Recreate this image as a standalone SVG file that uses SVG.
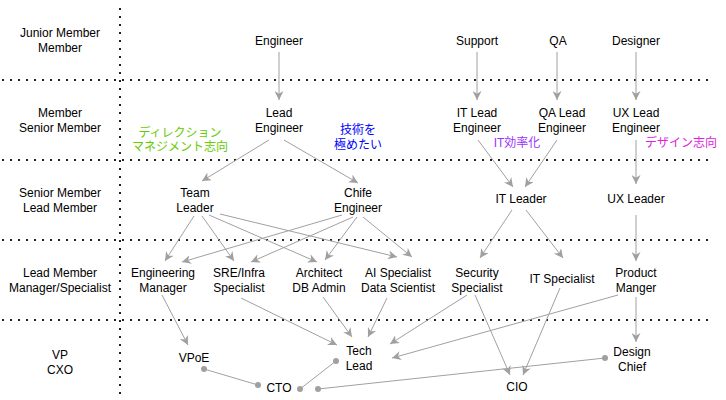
<svg xmlns="http://www.w3.org/2000/svg" width="726" height="400" viewBox="0 0 726 400">
<style>
text{font-family:"Liberation Sans","Noto Sans CJK JP",Arial,sans-serif;font-size:12px;fill:#000;text-anchor:middle}
.grid{stroke:#222;stroke-width:2;stroke-dasharray:2 6;fill:none}
.e{stroke:#a0a0a0;stroke-width:1;fill:none;marker-end:url(#ah)}
.l{stroke:#a0a0a0;stroke-width:1;fill:none}
.d{fill:#a0a0a0}
</style>
<defs>
<marker id="ah" viewBox="0 0 10 10" refX="10" refY="5" markerWidth="9" markerHeight="9" markerUnits="userSpaceOnUse" orient="auto">
<path d="M0,0 L10,5 L0,10 L3,5 z" fill="#a0a0a0"/>
</marker>
</defs>
<g id="grid">
<line class="grid" x1="120" y1="8" x2="120" y2="400"/>
<line class="grid" x1="2" y1="80" x2="712" y2="80"/>
<line class="grid" x1="2" y1="160" x2="712" y2="160"/>
<line class="grid" x1="2" y1="240" x2="712" y2="240"/>
<line class="grid" x1="2" y1="320" x2="712" y2="320"/>
</g>
<g id="rowlabels">
<text x="60" y="37">Junior Member</text><text x="60" y="52">Member</text>
<text x="60" y="117">Member</text><text x="60" y="132">Senior Member</text>
<text x="60" y="197">Senior Member</text><text x="60" y="212">Lead Member</text>
<text x="60" y="277">Lead Member</text><text x="60" y="292">Manager/Specialist</text>
<text x="60" y="359">VP</text><text x="60" y="374">CXO</text>
</g>
<g id="connectors">
<line class="e" x1="279" y1="52" x2="279" y2="100"/>
<line class="e" x1="477" y1="52" x2="477" y2="100"/>
<line class="e" x1="557" y1="52" x2="557" y2="100"/>
<line class="e" x1="636" y1="52" x2="636" y2="100"/>
<line class="e" x1="269" y1="140" x2="202" y2="181"/>
<line class="e" x1="284" y1="140" x2="358" y2="183"/>
<line class="e" x1="478" y1="140" x2="513" y2="187"/>
<line class="e" x1="557" y1="140" x2="525" y2="187"/>
<line class="e" x1="636" y1="140" x2="636" y2="184"/>
<line class="e" x1="194" y1="216" x2="165" y2="261"/>
<line class="e" x1="202" y1="216" x2="234" y2="261"/>
<line class="e" x1="209" y1="215" x2="317" y2="262"/>
<line class="e" x1="220" y1="214" x2="397" y2="257"/>
<line class="e" x1="342" y1="215" x2="182" y2="262"/>
<line class="e" x1="353" y1="217" x2="251" y2="262"/>
<line class="e" x1="357" y1="217" x2="325" y2="260"/>
<line class="e" x1="363" y1="217" x2="412" y2="257"/>
<line class="e" x1="512" y1="210" x2="480" y2="258"/>
<line class="e" x1="526" y1="210" x2="563" y2="258"/>
<line class="e" x1="636" y1="215" x2="636" y2="261"/>
<line class="e" x1="162" y1="295" x2="188" y2="345"/>
<line class="e" x1="241" y1="298" x2="337" y2="345"/>
<line class="e" x1="323" y1="297" x2="352" y2="337"/>
<line class="e" x1="387" y1="298" x2="368" y2="337"/>
<line class="e" x1="467" y1="295" x2="390" y2="344"/>
<line class="e" x1="618" y1="295" x2="392" y2="358"/>
<line class="e" x1="475" y1="295" x2="510" y2="375"/>
<line class="e" x1="560" y1="288" x2="523" y2="375"/>
<line class="e" x1="636" y1="297" x2="636" y2="342"/>
<line class="l" x1="204" y1="369" x2="258" y2="385"/>
<circle class="d" cx="204" cy="369" r="3"/><circle class="d" cx="258" cy="385" r="3"/>
<line class="l" x1="300" y1="389" x2="336" y2="361"/>
<circle class="d" cx="300" cy="389" r="3"/><circle class="d" cx="336" cy="361" r="3"/>
<line class="l" x1="318" y1="389" x2="605" y2="358"/>
<circle class="d" cx="318" cy="389" r="3"/><circle class="d" cx="605" cy="358" r="3"/>
</g>
<g id="engineer"><text x="279" y="45">Engineer</text></g>
<g id="support"><text x="477" y="45">Support</text></g>
<g id="qa"><text x="558" y="45">QA</text></g>
<g id="designer"><text x="636" y="45">Designer</text></g>
<g id="lead-engineer"><text x="279" y="117">Lead</text><text x="279" y="132">Engineer</text></g>
<g id="it-lead-engineer"><text x="477" y="117">IT Lead</text><text x="477" y="132">Engineer</text></g>
<g id="qa-lead-engineer"><text x="562" y="117">QA Lead</text><text x="562" y="132">Engineer</text></g>
<g id="ux-lead-engineer"><text x="636" y="117">UX Lead</text><text x="636" y="132">Engineer</text></g>
<g id="team-leader"><text x="195" y="197">Team</text><text x="195" y="212">Leader</text></g>
<g id="chife-engineer"><text x="358" y="197">Chife</text><text x="358" y="212">Engineer</text></g>
<g id="it-leader"><text x="521" y="203">IT Leader</text></g>
<g id="ux-leader"><text x="636" y="203">UX Leader</text></g>
<g id="engineering-manager"><text x="163" y="277">Engineering</text><text x="163" y="292">Manager</text></g>
<g id="sre-infra"><text x="239" y="277">SRE/Infra</text><text x="239" y="292">Specialist</text></g>
<g id="architect"><text x="319" y="277">Architect</text><text x="319" y="292">DB Admin</text></g>
<g id="ai-specialist"><text x="398" y="277">AI Specialist</text><text x="398" y="292">Data Scientist</text></g>
<g id="security-specialist"><text x="477" y="277">Security</text><text x="477" y="292">Specialist</text></g>
<g id="it-specialist"><text x="562" y="283">IT Specialist</text></g>
<g id="product-manger"><text x="636" y="277">Product</text><text x="636" y="292">Manger</text></g>
<g id="vpoe"><text x="194" y="362">VPoE</text></g>
<g id="tech-lead"><text x="359" y="355">Tech</text><text x="359" y="370">Lead</text></g>
<g id="design-chief"><text x="632" y="356">Design</text><text x="632" y="371">Chief</text></g>
<g id="cto"><text x="279" y="392">CTO</text></g>
<g id="cio"><text x="517" y="391">CIO</text></g>
<g id="annotations">
<text x="180" y="137" style="fill:#66cc00">ディレクション</text>
<text x="180" y="151" style="fill:#66cc00">マネジメント志向</text>
<text x="358" y="134" style="fill:#0000ff">技術を</text>
<text x="358" y="149" style="fill:#0000ff">極めたい</text>
<text x="517" y="147" style="fill:#9933ff">IT効率化</text>
<text x="681" y="147" style="fill:#e020e0">デザイン志向</text>
</g>
</svg>
